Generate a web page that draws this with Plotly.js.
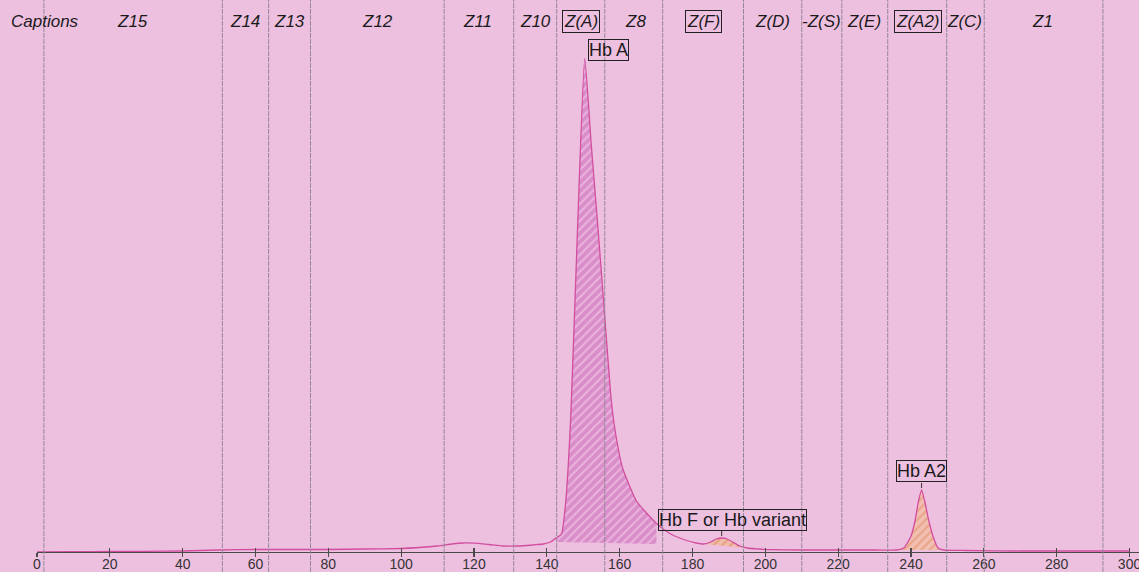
<!DOCTYPE html>
<html>
<head>
<meta charset="utf-8">
<script src="https://cdn.plot.ly/plotly-3.0.1.min.js"></script>
<style>
html,body{margin:0;padding:0;background:#EEC0E0;}
#chart{width:1139px;height:572px;}
</style>
</head>
<body>
<div id="chart"></div>
<script>
// Electrophoregram: migration position (x) vs signal (arbitrary units)
const positions = [0,10,20,30,40,50,60,70,80,90,100,105,110,114,117,120,124,128,132,136,139,141,142.5,144,145.2,146.6,148.4,150.4,152.2,154.1,156.2,157.7,158.9,160.8,164.6,170.1,174,178.4,181,183,185,186.5,188,189.5,191,193,195,198,200,210,220,230,236,238,239.9,241.1,242,242.9,243.8,244.9,246.1,247.4,249,255,270,300];
const signal =    [0,0.06,0.1,0.14,0.2,0.4,0.5,0.5,0.5,0.6,0.7,0.9,1.2,1.6,1.8,1.76,1.5,1.2,1.2,1.4,1.6,2.0,2.8,3.6,10.2,27.6,64.2,98.7,81.4,64.2,44.2,30.2,23.6,16.8,10.2,5.7,3.6,2.3,1.8,1.6,2.0,2.6,2.8,2.6,2.0,1.2,0.8,0.6,0.5,0.4,0.4,0.4,0.4,0.8,3.0,6.2,10.0,12.4,10.0,6.2,3.0,0.8,0.4,0.3,0.2,0.2];

// zone boundaries and zone captions
const zoneBounds = [1.9,50.9,63.6,75.1,111.8,130.9,142.7,155.9,171.8,194.0,210.0,221.0,233.6,249.8,260.1,292.7];
const zoneLabels = ['Captions','Z15','Z14','Z13','Z12','Z11','Z10','Z(A)','Z8','Z(F)','Z(D)','-Z(S)','Z(E)','Z(A2)','Z(C)','Z1'];
const zoneLabelX = [2.1,26.2,57.1,69.4,93.5,121.0,137.0,149.5,164.4,183.1,202.0,215.4,227.2,241.8,254.8,276.0];
const zoneBoxed  = [false,false,false,false,false,false,false,true,false,true,false,false,false,true,false,false];

// identified peaks
const peakNames = ['Hb A','Hb F or Hb variant','Hb A2'];
const peakX = [150.4,188,242.9];
const peakY = [98.7,2.8,12.4];
const peakFrom = [142.5,183,236];
const peakTo = [170.1,195,249];
const peakBaseL = [2.0,1.6,0.4];
const peakBaseR = [1.6,0.8,0.4];

const tickVals = [0,20,40,60,80,100,120,140,160,180,200,220,240,260,280,300];

const BG = '#EEC0E0';
const fillStyles = [
  {bg:'#D98DC9', fg:'#EBB3DE'},
  {bg:'#F0BCAE', fg:'#E9A07E'},
  {bg:'#F1C0B2', fg:'#EAA488'}
];

const traces = [];
peakNames.forEach((nm, i) => {
  const sx = [], sy = [];
  positions.forEach((p, k) => { if (p >= peakFrom[i] && p <= peakTo[i]) { sx.push(p); sy.push(signal[k]); } });
  traces.push({x:[peakFrom[i], peakTo[i]], y:[peakBaseL[i], peakBaseR[i]], mode:'lines',
    line:{width:0, color:'rgba(0,0,0,0)'}, hoverinfo:'skip', showlegend:false});
  traces.push({x:sx, y:sy, mode:'lines', fill:'tonexty', line:{width:0, shape:'spline', smoothing:0.5, color:'rgba(0,0,0,0)'},
    fillcolor:fillStyles[i].bg,
    fillpattern:{shape:'/', bgcolor:fillStyles[i].bg, fgcolor:fillStyles[i].fg, size:6, solidity:0.35},
    hoverinfo:'skip', showlegend:false});
});
traces.push({x:positions, y:signal, mode:'lines', line:{color:'#D24E9E', width:1.3, shape:'spline', smoothing:0.5},
  showlegend:false, hoverinfo:'x+y'});
// dummy trace for the overlay axis carrying the inner half of the ticks
traces.push({x:[0], y:[0], xaxis:'x2', mode:'lines', line:{width:0}, hoverinfo:'skip', showlegend:false});

const shapes = zoneBounds.map(b => ({type:'line', xref:'x', yref:'paper', x0:b, x1:b, y0:-20/552, y1:1,
  line:{color:'#958899', width:1, dash:'5px,1px'}, layer:'above'}));
peakNames.forEach((nm, i) => {
  if (i === 0) return;
  shapes.push({type:'line', xref:'x', yref:'y', xsizemode:'pixel', ysizemode:'pixel',
    xanchor:peakX[i], yanchor:peakY[i], x0:0, x1:0, y0:2, y1:7, line:{color:'#333', width:1}});
});

const annotations = zoneLabels.map((t, i) => ({
  text:'<i>' + t + '</i>', xref:'x', yref:'paper', x:zoneLabelX[i], y:1 - 21/552,
  xanchor:'center', yanchor:'middle', showarrow:false,
  font:{family:'Liberation Sans, Arial, sans-serif', size:17, color:'#1A1A1A'},
  bordercolor: zoneBoxed[i] ? '#222' : 'rgba(0,0,0,0)', borderwidth: zoneBoxed[i] ? 1 : 0, borderpad:1
}));
const labelShiftX = [3, 11, 0];
const labelShiftY = [-2, 7, 8];
peakNames.forEach((nm, i) => {
  annotations.push({text:nm, xref:'x', yref:'y', x:peakX[i], y:peakY[i],
    xanchor: i === 0 ? 'left' : 'center', yanchor:'bottom', xshift:labelShiftX[i], yshift:labelShiftY[i],
    showarrow:false, font:{family:'Liberation Sans, Arial, sans-serif', size:18, color:'#1A1A1A'},
    bordercolor:'#222', borderwidth:1, borderpad:0, bgcolor:'rgba(0,0,0,0)'});
});

const layout = {
  width:1139, height:572,
  margin:{l:37, r:0, t:0, b:20, pad:0},
  paper_bgcolor:BG, plot_bgcolor:BG,
  showlegend:false,
  xaxis:{range:[0,302.6], tickvals:tickVals, ticktext:tickVals.map(String), showgrid:false, zeroline:false,
    showline:true, linecolor:'#4A4A4A', linewidth:1.2, ticks:'outside', ticklen:4, tickcolor:'#4A4A4A', tickwidth:1.2,
    tickfont:{family:'Liberation Sans, Arial, sans-serif', size:14, color:'#333'}, ticklabeloverflow:'allow',
    ticklabelstandoff:-5, automargin:false, fixedrange:true},
  xaxis2:{overlaying:'x', matches:'x', anchor:'y', side:'bottom', tickvals:tickVals, showticklabels:false,
    ticks:'inside', ticklen:4, tickcolor:'#4A4A4A', tickwidth:1.2, showgrid:false, zeroline:false, showline:false, automargin:false},
  yaxis:{range:[0,110.4], visible:false, fixedrange:true},
  shapes:shapes,
  annotations:annotations
};

Plotly.newPlot('chart', traces, layout, {displayModeBar:false, staticPlot:true});
</script>
</body>
</html>
